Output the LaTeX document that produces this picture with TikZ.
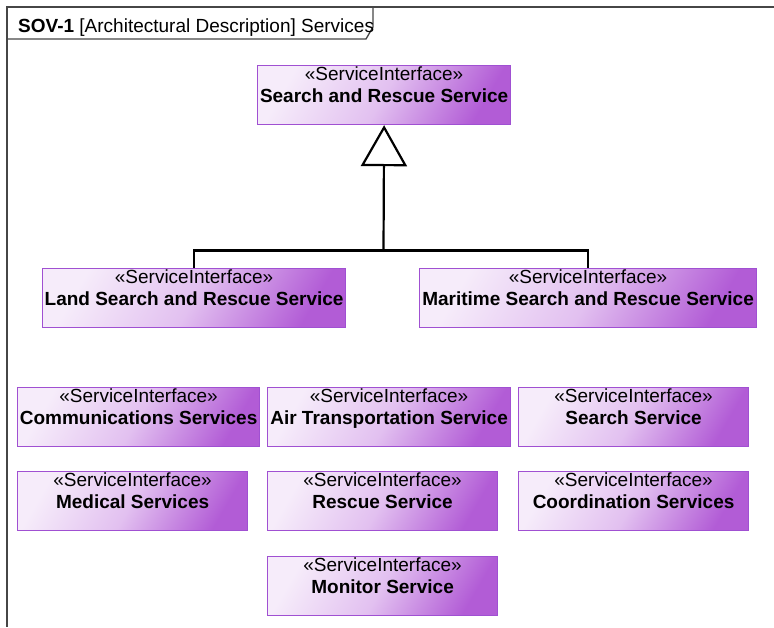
\documentclass[tikz,border=0pt]{standalone}
\usepackage{fontspec}
\setmainfont{Liberation Sans}
\usetikzlibrary{arrows.meta,positioning}
\definecolor{svclight}{RGB}{246,236,250}
\definecolor{svcmid}{RGB}{226,192,240}
\definecolor{svcdark}{RGB}{178,92,214}
\definecolor{svcline}{RGB}{160,80,210}
\definecolor{framegray}{RGB}{70,70,70}

\begin{document}
\begin{tikzpicture}[x=1pt, y=-1pt,
    svc/.style={rectangle, draw=svcline, line width=1.2pt, anchor=north west, minimum height=59pt, inner sep=0pt,
        top color=svclight, bottom color=svcdark, middle color=svcmid, shading angle=60},
    svctext/.style={anchor=north, inner sep=1pt, yshift=-1pt, align=center, font=\fontsize{19}{22}\selectfont},
    frame/.style={draw=framegray, line width=1.3pt},
    line/.style={draw=black, line width=2.2pt},
    gen/.style={line, -{Triangle[open, width=46pt, length=41pt]}}
]
    \useasboundingbox (0,0) rectangle (774,627);

    % Diagram frame and title tab
    \draw[frame] (774,7) -- (7,7) -- (7,627);
    \draw[frame] (7,39) -- (366,39) -- (373,27) -- (373,7);
    \node[anchor=base west, inner sep=0pt, font=\fontsize{19}{22}\selectfont] (title) at (18,32)
        {\textbf{SOV-1} [Architectural Description] Services};

    % Parent service
    \node[svc, minimum width=253pt, label={[svctext]north:{«ServiceInterface»\\\textbf{Search and Rescue Service}}}] (sar) at (257,65) {};

    % Specialised services
    \node[svc, minimum width=303pt, label={[svctext]north:{«ServiceInterface»\\\textbf{Land Search and Rescue Service}}}] (land) at (42,268) {};
    \node[svc, minimum width=337pt, label={[svctext]north:{«ServiceInterface»\\\textbf{Maritime Search and Rescue Service}}}] (mar) at (419,268) {};

    % Other services
    \node[svc, minimum width=242pt, label={[svctext]north:{«ServiceInterface»\\\textbf{Communications Services}}}] (comm) at (17,387) {};
    \node[svc, minimum width=243pt, label={[svctext]north:{«ServiceInterface»\\\textbf{Air Transportation Service}}}] (air) at (267,387) {};
    \node[svc, minimum width=230pt, label={[svctext]north:{«ServiceInterface»\\\textbf{Search Service}}}] (search) at (518,387) {};
    \node[svc, minimum width=230pt, label={[svctext]north:{«ServiceInterface»\\\textbf{Medical Services}}}] (med) at (17,471) {};
    \node[svc, minimum width=230pt, label={[svctext]north:{«ServiceInterface»\\\textbf{Rescue Service}}}] (rescue) at (267,471) {};
    \node[svc, minimum width=230pt, label={[svctext]north:{«ServiceInterface»\\\textbf{Coordination Services}}}] (coord) at (518,471) {};
    \node[svc, minimum width=230pt, label={[svctext]north:{«ServiceInterface»\\\textbf{Monitor Service}}}] (mon) at (267,556) {};

    % Generalization
    \coordinate (join) at (383.5,250.5);
    \draw[line] (land.north) |- (join) -| (mar.north);
    \draw[gen] (join) -- (sar.south);
\end{tikzpicture}
\end{document}
